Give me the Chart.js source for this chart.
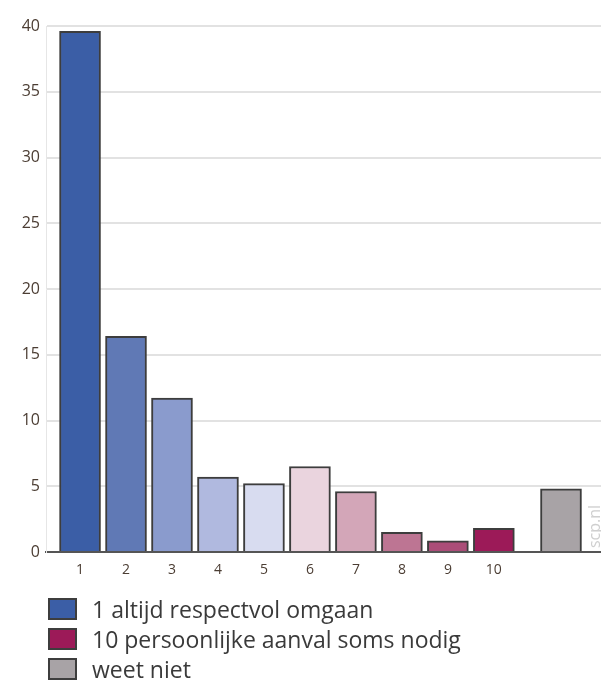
<!DOCTYPE html>
<html>
<head>
<meta charset="utf-8">
<script src="https://cdn.jsdelivr.net/npm/chart.js@4"></script>
<style>
  body { margin: 0; background: #fff; width: 601px; height: 684px; overflow: hidden; position: relative; }
  #wrap { position: absolute; left: 0; top: 0; width: 601px; height: 600px; }
  .legend { position: absolute; left: 48px; top: 594px; font-family: 'Open Sans', sans-serif; font-size: 23px; color: #3a3a3a; }
  .legend div { display: flex; align-items: center; height: 30px; }
  .legend span.box { display: inline-block; width: 25px; height: 18px; border: 2px solid #3d3d3d; margin-right: 15px; }
</style>
</head>
<body>
<div id="wrap"><canvas id="chart" width="601" height="600"></canvas></div>
<div class="legend" id="legend"></div>
<script>
const categories = ['1', '2', '3', '4', '5', '6', '7', '8', '9', '10', 'weet niet'];
const values = [39.6, 16.4, 11.7, 5.7, 5.2, 6.5, 4.6, 1.5, 0.85, 1.8, 4.8];
const barColors = ['#3b5ea6', '#6079b5', '#8a9bcd', '#b0b9df', '#d8dcf0', '#ead4de', '#d3a6b8', '#bd7593', '#ab4d78', '#9c1a58', '#a8a3a6'];
const yTicks = [0, 5, 10, 15, 20, 25, 30, 35, 40];
const legendItems = [
  { text: '1 altijd respectvol omgaan', color: '#3b5ea6' },
  { text: '10 persoonlijke aanval soms nodig', color: '#9c1a58' },
  { text: 'weet niet', color: '#a8a3a6' },
];

// 'weet niet' sits a bit apart from the 1-10 scale
const unknownOffset = 1.46;
const points = values.map((v, i) => ({
  x: i < 10 ? i + 1 : 10 + unknownOffset,
  y: v,
}));

const watermark = {
  id: 'watermark',
  afterDraw(chart) {
    const ctx = chart.ctx;
    ctx.save();
    ctx.translate(600, 548);
    ctx.rotate(-Math.PI / 2);
    ctx.font = '16px "Open Sans", sans-serif';
    ctx.fillStyle = '#cfcfcf';
    ctx.textBaseline = 'alphabetic';
    ctx.fillText('scp.nl', 0, 0);
    ctx.restore();
  },
};

const tickColor = '#4b3d33';

new Chart(document.getElementById('chart'), {
  type: 'bar',
  plugins: [watermark],
  data: {
    datasets: [
      {
        data: points,
        backgroundColor: barColors,
        borderColor: '#3d3d3d',
        borderWidth: 2,
        borderSkipped: 'bottom',
        barThickness: 41,
      },
    ],
  },
  options: {
    responsive: false,
    animation: false,
    layout: { padding: { top: 26, left: 0, right: 0, bottom: 0 } },
    plugins: { legend: { display: false }, tooltip: { enabled: false } },
    scales: {
      x: {
        type: 'linear',
        offset: false,
        min: 0.26,
        max: 12.33,
        afterBuildTicks: (scale) => {
          scale.ticks = categories.slice(0, 10).map((c) => ({ value: Number(c) }));
        },
        afterFit: (scale) => { scale.height = 48; },
        grid: { display: false, drawTicks: false },
        border: { color: '#555', width: 2 },
        ticks: {
          color: tickColor,
          padding: 10,
          maxRotation: 0,
          autoSkip: false,
          font: { family: '"Open Sans", sans-serif', size: 14 },
        },
      },
      y: {
        min: 0,
        max: 40,
        afterBuildTicks: (scale) => {
          scale.ticks = yTicks.map((v) => ({ value: v }));
        },
        afterFit: (scale) => { scale.width = 46; },
        grid: { color: '#e2e2e2', lineWidth: 2, drawTicks: false },
        border: { color: '#e6e6e6', width: 1 },
        ticks: {
          color: tickColor,
          padding: 6,
          font: { family: '"Open Sans", sans-serif', size: 16 },
        },
      },
    },
  },
});

const legendEl = document.getElementById('legend');
legendItems.forEach((item) => {
  const row = document.createElement('div');
  const box = document.createElement('span');
  box.className = 'box';
  box.style.background = item.color;
  row.appendChild(box);
  row.appendChild(document.createTextNode(item.text));
  legendEl.appendChild(row);
});
</script>
</body>
</html>
